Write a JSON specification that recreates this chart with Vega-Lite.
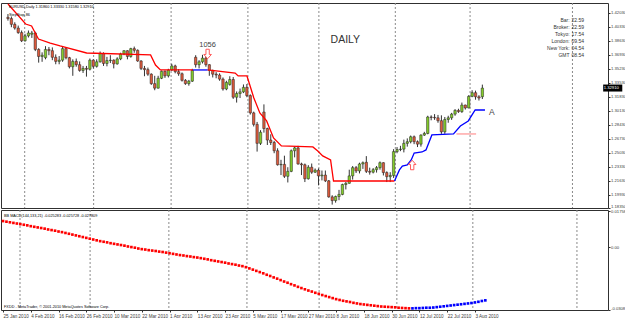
{
"$schema":"https://vega.github.io/schema/vega-lite/v6.json",
"padding":0,
"background":"white",
"spacing":2,
"bounds":"flush",
"config":{"view":{"stroke":"#303030","strokeWidth":1},"axis":{"labelFont":"Liberation Sans","labelFontSize":4.2,"labelColor":"#404040","tickColor":"#303030","tickSize":2,"domain":false,"grid":false,"title":null,"labelPadding":0.5,"labelOverlap":false,"labelBound":false},"text":{"font":"Liberation Sans"}},
"datasets":{
"candles":[
{"i":0,"o":1.4150,"h":1.4190,"l":1.4110,"c":1.4135},{"i":1,"o":1.4135,"h":1.4160,"l":1.4030,"c":1.4065},{"i":2,"o":1.4065,"h":1.4090,"l":1.4000,"c":1.4020},{"i":3,"o":1.4020,"h":1.4050,"l":1.3950,"c":1.3965},{"i":4,"o":1.3965,"h":1.3990,"l":1.3850,"c":1.3865},
{"i":5,"o":1.3865,"h":1.3950,"l":1.3855,"c":1.3925},{"i":6,"o":1.3925,"h":1.3990,"l":1.3905,"c":1.3960},{"i":7,"o":1.3945,"h":1.3985,"l":1.3900,"c":1.3960},{"i":8,"o":1.3960,"h":1.3975,"l":1.3740,"c":1.3760},{"i":9,"o":1.3760,"h":1.3775,"l":1.3600,"c":1.3675},
{"i":10,"o":1.3675,"h":1.3725,"l":1.3610,"c":1.3690},{"i":11,"o":1.3660,"h":1.3800,"l":1.3640,"c":1.3760},{"i":12,"o":1.3760,"h":1.3790,"l":1.3690,"c":1.3745},{"i":13,"o":1.3745,"h":1.3785,"l":1.3630,"c":1.3665},{"i":14,"o":1.3665,"h":1.3700,"l":1.3580,"c":1.3615},
{"i":15,"o":1.3615,"h":1.3680,"l":1.3580,"c":1.3630},{"i":16,"o":1.3630,"h":1.3790,"l":1.3610,"c":1.3770},{"i":17,"o":1.3770,"h":1.3785,"l":1.3640,"c":1.3660},{"i":18,"o":1.3660,"h":1.3670,"l":1.3530,"c":1.3550},{"i":19,"o":1.3550,"h":1.3640,"l":1.3440,"c":1.3615},
{"i":20,"o":1.3615,"h":1.3650,"l":1.3550,"c":1.3575},{"i":21,"o":1.3575,"h":1.3615,"l":1.3490,"c":1.3505},{"i":22,"o":1.3505,"h":1.3560,"l":1.3475,"c":1.3530},{"i":23,"o":1.3530,"h":1.3560,"l":1.3430,"c":1.3520},{"i":24,"o":1.3520,"h":1.3650,"l":1.3505,"c":1.3630},
{"i":25,"o":1.3630,"h":1.3640,"l":1.3530,"c":1.3555},{"i":26,"o":1.3555,"h":1.3640,"l":1.3540,"c":1.3610},{"i":27,"o":1.3610,"h":1.3735,"l":1.3600,"c":1.3710},{"i":28,"o":1.3710,"h":1.3725,"l":1.3560,"c":1.3590},{"i":29,"o":1.3590,"h":1.3670,"l":1.3555,"c":1.3625},
{"i":30,"o":1.3625,"h":1.3690,"l":1.3595,"c":1.3630},{"i":31,"o":1.3630,"h":1.3640,"l":1.3530,"c":1.3585},{"i":32,"o":1.3585,"h":1.3665,"l":1.3575,"c":1.3645},{"i":33,"o":1.3645,"h":1.3720,"l":1.3630,"c":1.3705},{"i":34,"o":1.3705,"h":1.3750,"l":1.3690,"c":1.3745},
{"i":35,"o":1.3745,"h":1.3750,"l":1.3640,"c":1.3675},{"i":36,"o":1.3675,"h":1.3780,"l":1.3660,"c":1.3770},{"i":37,"o":1.3770,"h":1.3795,"l":1.3720,"c":1.3750},{"i":38,"o":1.3750,"h":1.3760,"l":1.3610,"c":1.3620},{"i":39,"o":1.3620,"h":1.3630,"l":1.3510,"c":1.3530},
{"i":40,"o":1.3530,"h":1.3560,"l":1.3435,"c":1.3515},{"i":41,"o":1.3515,"h":1.3540,"l":1.3440,"c":1.3460},{"i":42,"o":1.3460,"h":1.3470,"l":1.3330,"c":1.3345},{"i":43,"o":1.3345,"h":1.3440,"l":1.3265,"c":1.3290},{"i":44,"o":1.3290,"h":1.3440,"l":1.3285,"c":1.3410},
{"i":45,"o":1.3410,"h":1.3505,"l":1.3400,"c":1.3495},{"i":46,"o":1.3495,"h":1.3505,"l":1.3415,"c":1.3440},{"i":47,"o":1.3440,"h":1.3525,"l":1.3420,"c":1.3510},{"i":48,"o":1.3510,"h":1.3585,"l":1.3500,"c":1.3560},{"i":49,"o":1.3560,"h":1.3575,"l":1.3470,"c":1.3490},
{"i":50,"o":1.3490,"h":1.3520,"l":1.3440,"c":1.3465},{"i":51,"o":1.3465,"h":1.3480,"l":1.3370,"c":1.3385},{"i":52,"o":1.3385,"h":1.3400,"l":1.3330,"c":1.3345},{"i":53,"o":1.3345,"h":1.3390,"l":1.3320,"c":1.3375},{"i":54,"o":1.3375,"h":1.3525,"l":1.3365,"c":1.3505},
{"i":55,"o":1.3665,"h":1.3690,"l":1.3540,"c":1.3575},{"i":56,"o":1.3575,"h":1.3630,"l":1.3530,"c":1.3610},{"i":57,"o":1.3610,"h":1.3695,"l":1.3590,"c":1.3655},{"i":58,"o":1.3655,"h":1.3695,"l":1.3550,"c":1.3575},{"i":59,"o":1.3575,"h":1.3580,"l":1.3440,"c":1.3505},
{"i":60,"o":1.3505,"h":1.3515,"l":1.3420,"c":1.3460},{"i":61,"o":1.3460,"h":1.3485,"l":1.3410,"c":1.3450},{"i":62,"o":1.3450,"h":1.3470,"l":1.3380,"c":1.3400},{"i":63,"o":1.3400,"h":1.3420,"l":1.3260,"c":1.3280},{"i":64,"o":1.3280,"h":1.3380,"l":1.3265,"c":1.3360},
{"i":65,"o":1.3335,"h":1.3435,"l":1.3320,"c":1.3395},{"i":66,"o":1.3395,"h":1.3425,"l":1.3160,"c":1.3180},{"i":67,"o":1.3180,"h":1.3250,"l":1.3115,"c":1.3225},{"i":68,"o":1.3225,"h":1.3285,"l":1.3170,"c":1.3245},{"i":69,"o":1.3245,"h":1.3335,"l":1.3230,"c":1.3300},
{"i":70,"o":1.3300,"h":1.3340,"l":1.3180,"c":1.3200},{"i":71,"o":1.3200,"h":1.3215,"l":1.2970,"c":1.2990},{"i":72,"o":1.2990,"h":1.3005,"l":1.2825,"c":1.2850},{"i":73,"o":1.2850,"h":1.2880,"l":1.2520,"c":1.2620},{"i":74,"o":1.2620,"h":1.2780,"l":1.2600,"c":1.2755},
{"i":75,"o":1.3000,"h":1.3093,"l":1.2750,"c":1.2800},{"i":76,"o":1.2800,"h":1.2810,"l":1.2600,"c":1.2660},{"i":77,"o":1.2660,"h":1.2730,"l":1.2600,"c":1.2630},{"i":78,"o":1.2630,"h":1.2650,"l":1.2500,"c":1.2530},{"i":79,"o":1.2530,"h":1.2560,"l":1.2350,"c":1.2360},
{"i":80,"o":1.2360,"h":1.2420,"l":1.2235,"c":1.2365},{"i":81,"o":1.2365,"h":1.2470,"l":1.2200,"c":1.2220},{"i":82,"o":1.2220,"h":1.2330,"l":1.2145,"c":1.2280},{"i":83,"o":1.2280,"h":1.2545,"l":1.2270,"c":1.2530},{"i":84,"o":1.2530,"h":1.2580,"l":1.2450,"c":1.2565},
{"i":85,"o":1.2565,"h":1.2590,"l":1.2360,"c":1.2370},{"i":86,"o":1.2370,"h":1.2385,"l":1.2235,"c":1.2360},{"i":87,"o":1.2360,"h":1.2375,"l":1.2150,"c":1.2190},{"i":88,"o":1.2190,"h":1.2355,"l":1.2180,"c":1.2330},{"i":89,"o":1.2330,"h":1.2375,"l":1.2250,"c":1.2270},
{"i":90,"o":1.2270,"h":1.2315,"l":1.2260,"c":1.2295},{"i":91,"o":1.2295,"h":1.2315,"l":1.2110,"c":1.2225},{"i":92,"o":1.2225,"h":1.2290,"l":1.2170,"c":1.2235},{"i":93,"o":1.2235,"h":1.2290,"l":1.2150,"c":1.2165},{"i":94,"o":1.2165,"h":1.2175,"l":1.1960,"c":1.1970},
{"i":95,"o":1.1970,"h":1.1990,"l":1.1876,"c":1.1925},{"i":96,"o":1.1925,"h":1.1985,"l":1.1900,"c":1.1975},{"i":97,"o":1.1975,"h":1.2055,"l":1.1930,"c":1.2000},{"i":98,"o":1.2000,"h":1.2130,"l":1.1990,"c":1.2120},{"i":99,"o":1.2120,"h":1.2150,"l":1.2060,"c":1.2135},
{"i":100,"o":1.2135,"h":1.2300,"l":1.2130,"c":1.2225},{"i":101,"o":1.2225,"h":1.2345,"l":1.2180,"c":1.2325},{"i":102,"o":1.2325,"h":1.2345,"l":1.2260,"c":1.2285},{"i":103,"o":1.2285,"h":1.2385,"l":1.2255,"c":1.2370},{"i":104,"o":1.2370,"h":1.2400,"l":1.2310,"c":1.2385},
{"i":105,"o":1.2390,"h":1.2465,"l":1.2260,"c":1.2280},{"i":106,"o":1.2280,"h":1.2325,"l":1.2240,"c":1.2270},{"i":107,"o":1.2270,"h":1.2320,"l":1.2255,"c":1.2300},{"i":108,"o":1.2300,"h":1.2345,"l":1.2265,"c":1.2325},{"i":109,"o":1.2325,"h":1.2400,"l":1.2300,"c":1.2385},
{"i":110,"o":1.2385,"h":1.2390,"l":1.2230,"c":1.2265},{"i":111,"o":1.2265,"h":1.2280,"l":1.2150,"c":1.2215},{"i":112,"o":1.2215,"h":1.2270,"l":1.2150,"c":1.2230},{"i":113,"o":1.2230,"h":1.2550,"l":1.2200,"c":1.2520},{"i":114,"o":1.2520,"h":1.2575,"l":1.2500,"c":1.2545},
{"i":115,"o":1.2545,"h":1.2590,"l":1.2525,"c":1.2550},{"i":116,"o":1.2550,"h":1.2665,"l":1.2510,"c":1.2620},{"i":117,"o":1.2620,"h":1.2680,"l":1.2580,"c":1.2640},{"i":118,"o":1.2640,"h":1.2715,"l":1.2620,"c":1.2700},{"i":119,"o":1.2700,"h":1.2715,"l":1.2610,"c":1.2640},
{"i":120,"o":1.2640,"h":1.2655,"l":1.2575,"c":1.2610},{"i":121,"o":1.2610,"h":1.2730,"l":1.2580,"c":1.2720},{"i":122,"o":1.2720,"h":1.2760,"l":1.2710,"c":1.2740},{"i":123,"o":1.2740,"h":1.2955,"l":1.2730,"c":1.2940},{"i":124,"o":1.2940,"h":1.2960,"l":1.2900,"c":1.2935},
{"i":125,"o":1.2935,"h":1.2975,"l":1.2905,"c":1.2930},{"i":126,"o":1.2930,"h":1.2965,"l":1.2870,"c":1.2895},{"i":127,"o":1.2895,"h":1.2960,"l":1.2735,"c":1.2760},{"i":128,"o":1.2760,"h":1.2940,"l":1.2735,"c":1.2910},{"i":129,"o":1.2910,"h":1.2955,"l":1.2870,"c":1.2930},
{"i":130,"o":1.2930,"h":1.2990,"l":1.2905,"c":1.2975},{"i":131,"o":1.2975,"h":1.3035,"l":1.2955,"c":1.3020},{"i":132,"o":1.3020,"h":1.3040,"l":1.2990,"c":1.3005},{"i":133,"o":1.3005,"h":1.3115,"l":1.2990,"c":1.3085},{"i":134,"o":1.3085,"h":1.3090,"l":1.3030,"c":1.3050},
{"i":135,"o":1.3050,"h":1.3205,"l":1.3045,"c":1.3190},{"i":136,"o":1.3190,"h":1.3265,"l":1.3180,"c":1.3235},{"i":137,"o":1.3235,"h":1.3260,"l":1.3150,"c":1.3185},{"i":138,"o":1.3185,"h":1.3205,"l":1.3140,"c":1.3170},{"i":139,"o":1.3186,"h":1.3333,"l":1.3158,"c":1.3291}
],
"stop":[
{"i":0,"p":1.4312,"trend":"down","seg":1},{"i":5.19,"p":1.4069,"trend":"down","seg":1},{"i":6.92,"p":1.4045,"trend":"down","seg":1},{"i":8.93,"p":1.3887,"trend":"down","seg":1},{"i":12.39,"p":1.3838,"trend":"down","seg":1},{"i":15.27,"p":1.3802,"trend":"down","seg":1},{"i":23.05,"p":1.3717,"trend":"down","seg":1},{"i":41.79,"p":1.3693,"trend":"down","seg":1},{"i":43.23,"p":1.3571,"trend":"down","seg":1},{"i":44.67,"p":1.3511,"trend":"down","seg":1},{"i":54.18,"p":1.3511,"trend":"down","seg":1},
{"i":54.18,"p":1.3511,"trend":"up","seg":2},{"i":58.5,"p":1.3511,"trend":"up","seg":2},
{"i":58.5,"p":1.3511,"trend":"down","seg":3},{"i":66.57,"p":1.3474,"trend":"down","seg":3},{"i":67.44,"p":1.3438,"trend":"down","seg":3},{"i":70.03,"p":1.3438,"trend":"down","seg":3},{"i":72.05,"p":1.3171,"trend":"down","seg":3},{"i":73.8,"p":1.2989,"trend":"down","seg":3},{"i":75.79,"p":1.2892,"trend":"down","seg":3},{"i":77.81,"p":1.2685,"trend":"down","seg":3},{"i":80.12,"p":1.2588,"trend":"down","seg":3},{"i":89.34,"p":1.2576,"trend":"down","seg":3},{"i":90.78,"p":1.2527,"trend":"down","seg":3},{"i":92.22,"p":1.2467,"trend":"down","seg":3},{"i":94.53,"p":1.2418,"trend":"down","seg":3},{"i":95.39,"p":1.2163,"trend":"down","seg":3},{"i":113.26,"p":1.2163,"trend":"down","seg":3},
{"i":113.26,"p":1.2163,"trend":"up","seg":4},{"i":114.7,"p":1.2297,"trend":"up","seg":4},{"i":115.56,"p":1.2345,"trend":"up","seg":4},{"i":117.0,"p":1.2357,"trend":"up","seg":4},{"i":118.16,"p":1.2418,"trend":"up","seg":4},{"i":119.02,"p":1.2503,"trend":"up","seg":4},{"i":121.33,"p":1.2515,"trend":"up","seg":4},{"i":122.48,"p":1.254,"trend":"up","seg":4},{"i":124.21,"p":1.2722,"trend":"up","seg":4},{"i":130.55,"p":1.2734,"trend":"up","seg":4},{"i":132.56,"p":1.2831,"trend":"up","seg":4},{"i":134.87,"p":1.2892,"trend":"up","seg":4},{"i":136.89,"p":1.3025,"trend":"up","seg":4},{"i":139.77,"p":1.3025,"trend":"up","seg":4},
{"i":131.41,"p":1.2734,"trend":"mark","seg":5},{"i":137.17,"p":1.2734,"trend":"mark","seg":5}
],
"months":[{"i":4.9},{"i":25.1},{"i":47.8},{"i":70.3},{"i":91.1},{"i":113.5},{"i":135.4},{"i":165.4}],
"notes":[
{"k":"hdr","i":0.3,"p":1.4275,"t":"EURUSD,Daily  1.31860 1.33330 1.31580 1.32910"},
{"k":"hdr","i":0.3,"p":1.4178,"t":"StepStop 86"},
{"k":"big","i":98.85,"p":1.3875,"t":"DAILY"},
{"k":"num","i":58.5,"p":1.3814,"t":"1056"},
{"k":"a","i":141.8,"p":1.2998,"t":"A"},
{"k":"il","i":164.55,"p":1.4118,"t":"Bar:"},{"k":"il","i":164.55,"p":1.4033,"t":"Broker:"},{"k":"il","i":164.55,"p":1.3948,"t":"Tokyo:"},{"k":"il","i":164.55,"p":1.3863,"t":"London:"},{"k":"il","i":164.55,"p":1.3778,"t":"New York:"},{"k":"il","i":164.55,"p":1.3693,"t":"GMT"},
{"k":"iv","i":165.13,"p":1.4118,"t":"22.59"},{"k":"iv","i":165.13,"p":1.4033,"t":"22.59"},{"k":"iv","i":165.13,"p":1.3948,"t":"17.54"},{"k":"iv","i":165.13,"p":1.3863,"t":"09.54"},{"k":"iv","i":165.13,"p":1.3778,"t":"04.54"},{"k":"iv","i":165.13,"p":1.3693,"t":"08.54"}
],
"arrows":[{"dir":"down","i":58.5,"p":1.3705},{"dir":"up","i":118.44,"p":1.2357}],
"last":[{"i0":174.4,"i1":180,"lo":1.3249,"hi":1.3334,"i":174.55,"p":1.3291,"t":"1.32910"}],
"macd":[
{"i":0,"v":0.0127},{"i":1,"v":0.0124},{"i":2,"v":0.0121},{"i":3,"v":0.0118},{"i":4,"v":0.0115},{"i":5,"v":0.0112},{"i":6,"v":0.0109},{"i":7,"v":0.0106},{"i":8,"v":0.0102},{"i":9,"v":0.0099},
{"i":10,"v":0.0096},{"i":11,"v":0.0093},{"i":12,"v":0.0090},{"i":13,"v":0.0086},{"i":14,"v":0.0083},{"i":15,"v":0.0080},{"i":16,"v":0.0076},{"i":17,"v":0.0073},{"i":18,"v":0.0069},{"i":19,"v":0.0065},
{"i":20,"v":0.0061},{"i":21,"v":0.0057},{"i":22,"v":0.0053},{"i":23,"v":0.0049},{"i":24,"v":0.0045},{"i":25,"v":0.0041},{"i":26,"v":0.0037},{"i":27,"v":0.0033},{"i":28,"v":0.0029},{"i":29,"v":0.0026},
{"i":30,"v":0.0023},{"i":31,"v":0.0019},{"i":32,"v":0.0016},{"i":33,"v":0.0013},{"i":34,"v":0.0010},{"i":35,"v":0.0007},{"i":36,"v":0.0003},{"i":37,"v":0.0000},{"i":38,"v":-0.0003},{"i":39,"v":-0.0007},
{"i":40,"v":-0.0010},{"i":41,"v":-0.0012},{"i":42,"v":-0.0015},{"i":43,"v":-0.0017},{"i":44,"v":-0.0019},{"i":45,"v":-0.0022},{"i":46,"v":-0.0024},{"i":47,"v":-0.0027},{"i":48,"v":-0.0030},{"i":49,"v":-0.0033},
{"i":50,"v":-0.0036},{"i":51,"v":-0.0039},{"i":52,"v":-0.0041},{"i":53,"v":-0.0044},{"i":54,"v":-0.0046},{"i":55,"v":-0.0049},{"i":56,"v":-0.0051},{"i":57,"v":-0.0054},{"i":58,"v":-0.0057},{"i":59,"v":-0.0060},
{"i":60,"v":-0.0064},{"i":61,"v":-0.0067},{"i":62,"v":-0.0070},{"i":63,"v":-0.0073},{"i":64,"v":-0.0076},{"i":65,"v":-0.0080},{"i":66,"v":-0.0083},{"i":67,"v":-0.0086},{"i":68,"v":-0.0090},{"i":69,"v":-0.0093},
{"i":70,"v":-0.0098},{"i":71,"v":-0.0104},{"i":72,"v":-0.0110},{"i":73,"v":-0.0116},{"i":74,"v":-0.0122},{"i":75,"v":-0.0128},{"i":76,"v":-0.0135},{"i":77,"v":-0.0141},{"i":78,"v":-0.0148},{"i":79,"v":-0.0154},
{"i":80,"v":-0.0161},{"i":81,"v":-0.0168},{"i":82,"v":-0.0174},{"i":83,"v":-0.0181},{"i":84,"v":-0.0187},{"i":85,"v":-0.0194},{"i":86,"v":-0.0200},{"i":87,"v":-0.0206},{"i":88,"v":-0.0212},{"i":89,"v":-0.0217},
{"i":90,"v":-0.0223},{"i":91,"v":-0.0228},{"i":92,"v":-0.0234},{"i":93,"v":-0.0239},{"i":94,"v":-0.0244},{"i":95,"v":-0.0249},{"i":96,"v":-0.0254},{"i":97,"v":-0.0258},{"i":98,"v":-0.0262},{"i":99,"v":-0.0265},
{"i":100,"v":-0.0268},{"i":101,"v":-0.0272},{"i":102,"v":-0.0275},{"i":103,"v":-0.0278},{"i":104,"v":-0.0280},{"i":105,"v":-0.0282},{"i":106,"v":-0.0284},{"i":107,"v":-0.0286},{"i":108,"v":-0.0288},{"i":109,"v":-0.0290},
{"i":110,"v":-0.0291},{"i":111,"v":-0.0292},{"i":112,"v":-0.0293},{"i":113,"v":-0.0294},{"i":114,"v":-0.0296},{"i":115,"v":-0.0297},{"i":116,"v":-0.0298},{"i":117,"v":-0.0299},{"i":118,"v":-0.0299,"up":1},{"i":119,"v":-0.0298,"up":1},
{"i":120,"v":-0.0298,"up":1},{"i":121,"v":-0.0297,"up":1},{"i":122,"v":-0.0296,"up":1},{"i":123,"v":-0.0296,"up":1},{"i":124,"v":-0.0295,"up":1},{"i":125,"v":-0.0293,"up":1},{"i":126,"v":-0.0291,"up":1},{"i":127,"v":-0.0289,"up":1},{"i":128,"v":-0.0287,"up":1},{"i":129,"v":-0.0285,"up":1},
{"i":130,"v":-0.0283,"up":1},{"i":131,"v":-0.0281,"up":1},{"i":132,"v":-0.0279,"up":1},{"i":133,"v":-0.0277,"up":1},{"i":134,"v":-0.0275,"up":1},{"i":135,"v":-0.0273,"up":1},{"i":136,"v":-0.0270,"up":1},{"i":137,"v":-0.0267,"up":1},{"i":138,"v":-0.0263,"up":1},{"i":139,"v":-0.0260,"up":1}
],
"lnotes":[
{"i":0.3,"v":0.0151,"t":"BB MACD(144,133,21) -0.025283 -0.025728 -0.027809"},
{"i":0.3,"v":-0.0293,"t":"FXDD - MetaTrader, © 2001-2010 MetaQuotes Software Corp."}
]
},
"vconcat":[
{"width":607,"height":205,
"resolve":{"axis":{"y":"independent"}},
"encoding":{"x":{"field":"i","type":"quantitative","scale":{"domain":[-0.576,174.35],"nice":false,"zero":false},"axis":null}},
"layer":[
{"data":{"name":"months"},"mark":{"type":"rule","color":"#8a8a8a","strokeDash":[2,2],"strokeWidth":1},"encoding":{}},
{"data":{"name":"candles"},"mark":{"type":"rule","color":"#333333","strokeWidth":1},
 "encoding":{"y":{"field":"l","type":"quantitative","scale":{"domain":[1.1835,1.4324],"nice":false,"zero":false},
   "axis":{"orient":"right","values":[1.4203,1.4033,1.3863,1.3693,1.3523,1.3353,1.3183,1.3013,1.2843,1.2673,1.2503,1.2333,1.2163,1.1993,1.1835],"format":".5f","labelOverlap":false,"labelFlush":true,"labelFontSize":4.2}},
   "y2":{"field":"h"}}},
{"data":{"name":"candles"},"mark":{"type":"bar","size":2.4,"stroke":"#222222","strokeWidth":0.5},
 "encoding":{"y":{"field":"o","type":"quantitative","axis":null},"y2":{"field":"c"},
   "color":{"condition":{"test":"datum.c >= datum.o","value":"#84cc2b"},"value":"#dd5a3c"}}},
{"data":{"name":"stop"},"mark":{"type":"line","strokeWidth":1.3},
 "encoding":{"y":{"field":"p","type":"quantitative","axis":null},"detail":{"field":"seg"},
   "color":{"field":"trend","type":"nominal","scale":{"domain":["down","up","mark"],"range":["#ff0000","#0000ff","#ff9a9a"]},"legend":null}}},
{"data":{"name":"arrows"},"transform":[{"filter":"datum.dir == 'down'"}],
 "mark":{"type":"point","shape":"M-0.35,-1L0.35,-1L0.35,0.1L0.8,0.1L0,1L-0.8,0.1L-0.35,0.1Z","size":90,"filled":false,"fill":"white","fillOpacity":1,"stroke":"#ff5a5a","strokeWidth":1,"opacity":1},
 "encoding":{"y":{"field":"p","type":"quantitative","axis":null}}},
{"data":{"name":"arrows"},"transform":[{"filter":"datum.dir == 'up'"}],
 "mark":{"type":"point","shape":"M-0.35,1L0.35,1L0.35,-0.1L0.8,-0.1L0,-1L-0.8,-0.1L-0.35,-0.1Z","size":90,"filled":false,"fill":"white","fillOpacity":1,"stroke":"#ff5a5a","strokeWidth":1,"opacity":1},
 "encoding":{"y":{"field":"p","type":"quantitative","axis":null}}},
{"data":{"name":"notes"},"transform":[{"filter":"datum.k == 'hdr'"}],"mark":{"type":"text","align":"left","baseline":"middle","fontSize":3.8,"color":"#000000"},
 "encoding":{"y":{"field":"p","type":"quantitative","axis":null},"text":{"field":"t"}}},
{"data":{"name":"notes"},"transform":[{"filter":"datum.k == 'big'"}],"mark":{"type":"text","align":"center","baseline":"middle","fontSize":10.5,"color":"#333333"},
 "encoding":{"y":{"field":"p","type":"quantitative","axis":null},"text":{"field":"t"}}},
{"data":{"name":"notes"},"transform":[{"filter":"datum.k == 'num'"}],"mark":{"type":"text","align":"center","baseline":"middle","fontSize":7.5,"color":"#444444"},
 "encoding":{"y":{"field":"p","type":"quantitative","axis":null},"text":{"field":"t"}}},
{"data":{"name":"notes"},"transform":[{"filter":"datum.k == 'a'"}],"mark":{"type":"text","align":"center","baseline":"middle","fontSize":8.5,"color":"#444444"},
 "encoding":{"y":{"field":"p","type":"quantitative","axis":null},"text":{"field":"t"}}},
{"data":{"name":"notes"},"transform":[{"filter":"datum.k == 'il'"}],"mark":{"type":"text","align":"right","baseline":"middle","fontSize":5,"color":"#333333"},
 "encoding":{"y":{"field":"p","type":"quantitative","axis":null},"text":{"field":"t"}}},
{"data":{"name":"notes"},"transform":[{"filter":"datum.k == 'iv'"}],"mark":{"type":"text","align":"left","baseline":"middle","fontSize":5,"color":"#333333"},
 "encoding":{"y":{"field":"p","type":"quantitative","axis":null},"text":{"field":"t"}}},
{"data":{"name":"last"},"mark":{"type":"rect","color":"#000000"},
 "encoding":{"x":{"field":"i0","type":"quantitative"},"x2":{"field":"i1"},"y":{"field":"lo","type":"quantitative","axis":null},"y2":{"field":"hi"}}},
{"data":{"name":"last"},"mark":{"type":"text","align":"left","baseline":"middle","fontSize":4.2,"color":"#ffffff"},
 "encoding":{"y":{"field":"p","type":"quantitative","axis":null},"text":{"field":"t"}}}
]},
{"width":607,"height":100,
"resolve":{"axis":{"y":"independent"}},
"encoding":{"x":{"field":"i","type":"quantitative","scale":{"domain":[-0.576,174.35],"nice":false,"zero":false},
  "axis":{"orient":"bottom","values":[0,8,16,24,32,40,48,56,64,72,80,88,96,104,112,120,128,136],"labelAlign":"left","labelFontSize":4.6,"tickSize":2,"labelPadding":1,"labelOverlap":false,"labelFlush":false,
   "labelExpr":"['25 Jan 2010','4 Feb 2010','16 Feb 2010','26 Feb 2010','10 Mar 2010','22 Mar 2010','1 Apr 2010','13 Apr 2010','23 Apr 2010','5 May 2010','17 May 2010','27 May 2010','8 Jun 2010','18 Jun 2010','30 Jun 2010','12 Jul 2010','22 Jul 2010','3 Aug 2010'][round(datum.value/8)]"}}},
"layer":[
{"data":{"name":"months"},"mark":{"type":"rule","color":"#8a8a8a","strokeDash":[2,2],"strokeWidth":1},"encoding":{}},
{"data":{"name":"macd"},"mark":{"type":"square","size":7,"filled":true,"opacity":1},
 "encoding":{"y":{"field":"v","type":"quantitative","scale":{"domain":[-0.0307,0.0181],"nice":false,"zero":false},
   "axis":{"orient":"right","values":[0.01758,0,-0.0307],"labelOverlap":false,"labelFlush":true,"labelExpr":"datum.value == 0 ? '0.00' : (datum.value < 0 ? '-0.0308' : '0.01758')"}},
   "color":{"condition":{"test":"datum.up == 1","value":"#0000ff"},"value":"#ff0000"}}},
{"data":{"name":"lnotes"},"mark":{"type":"text","align":"left","baseline":"middle","fontSize":3.8,"color":"#000000"},
 "encoding":{"y":{"field":"v","type":"quantitative","axis":null},"text":{"field":"t"}}}
]}
]
}
